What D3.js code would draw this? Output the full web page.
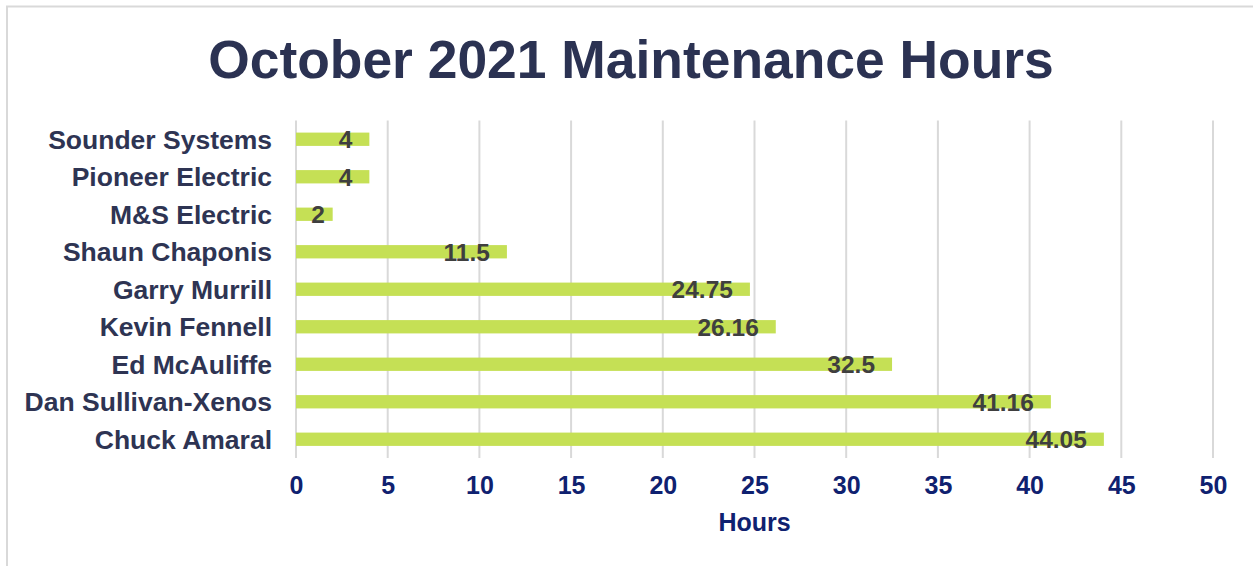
<!DOCTYPE html>
<html>
<head>
<meta charset="utf-8">
<script src="https://cdn.jsdelivr.net/npm/d3@7"></script>
<style>
  body { margin: 0; background: #fff; }
  svg { display: block; font-family: "Liberation Sans", Arial, sans-serif; }
</style>
</head>
<body>
<div id="chart"></div>
<script>
// data, top to bottom as in the chart
var names = ['Sounder Systems', 'Pioneer Electric', 'M&S Electric', 'Shaun Chaponis',
  'Garry Murrill', 'Kevin Fennell', 'Ed McAuliffe', 'Dan Sullivan-Xenos', 'Chuck Amaral'];
var hours = [4, 4, 2, 11.5, 24.75, 26.16, 32.5, 41.16, 44.05];
var xTicks = [0, 5, 10, 15, 20, 25, 30, 35, 40, 45, 50];

var W = 1253, H = 566;
var m = { left: 296, right: 40, top: 120.5, bottom: 108 };

var svg = d3.select('#chart').append('svg').attr('width', W).attr('height', H);

// outer chart border (runs off the right/bottom edge)
svg.append('rect')
  .attr('x', 7).attr('y', 6.5)
  .attr('width', W + 20).attr('height', H + 20)
  .attr('fill', 'none').attr('stroke', '#d9d9d9').attr('stroke-width', 2);

var x = d3.scaleLinear().domain([0, 50]).range([m.left, W - m.right]);
var y = d3.scaleBand().domain(names).range([m.top, H - m.bottom]).paddingInner(0.645).paddingOuter(0.3225);

// gridlines
svg.append('g').selectAll('line').data(xTicks).enter().append('line')
  .attr('x1', function(d) { return x(d); })
  .attr('x2', function(d) { return x(d); })
  .attr('y1', m.top).attr('y2', H - m.bottom)
  .attr('stroke', '#d9d9d9').attr('stroke-width', 2);

// bars
svg.append('g').selectAll('rect').data(names).enter().append('rect')
  .attr('x', x(0))
  .attr('y', function(d) { return y(d); })
  .attr('width', function(d, i) { return x(hours[i]) - x(0); })
  .attr('height', y.bandwidth())
  .attr('fill', '#c5e055');

// value labels, inside end; keep tiny bars' labels off the axis
svg.append('g').selectAll('text').data(names).enter().append('text')
  .attr('x', function(d, i) { return Math.max(x(hours[i]) - 17, x(0) + 29); })
  .attr('y', function(d) { return y(d) + y.bandwidth() / 2 + 9; })
  .attr('text-anchor', 'end')
  .attr('font-size', 24.5).attr('font-weight', 'bold')
  .attr('fill', '#3f3f3f')
  .text(function(d, i) { return hours[i]; });

// category axis
svg.append('g').selectAll('text').data(names).enter().append('text')
  .attr('x', 272)
  .attr('y', function(d) { return y(d) + y.bandwidth() / 2 + 9.5; })
  .attr('text-anchor', 'end')
  .attr('font-size', 26.5).attr('font-weight', 'bold')
  .attr('fill', '#2e3453')
  .text(function(d) { return d; });

// value axis
var xAxis = svg.append('g')
  .attr('transform', 'translate(0,' + (H - m.bottom) + ')')
  .call(d3.axisBottom(x).tickValues(xTicks).tickSize(0).tickPadding(18));
xAxis.select('.domain').remove();
xAxis.selectAll('text')
  .attr('font-size', 25).attr('font-weight', 'bold')
  .attr('fill', '#0f2170')
  .attr('font-family', '"Liberation Sans", Arial, sans-serif');

svg.append('text')
  .attr('x', (x(0) + x(50)) / 2).attr('y', 531)
  .attr('text-anchor', 'middle')
  .attr('font-size', 25).attr('font-weight', 'bold')
  .attr('fill', '#0f2170')
  .text('Hours');

// title
svg.append('text')
  .attr('x', 631).attr('y', 78)
  .attr('text-anchor', 'middle')
  .attr('font-size', 53.4).attr('font-weight', 'bold')
  .attr('fill', '#2b3252')
  .text('October 2021 Maintenance Hours');
</script>
</body>
</html>
